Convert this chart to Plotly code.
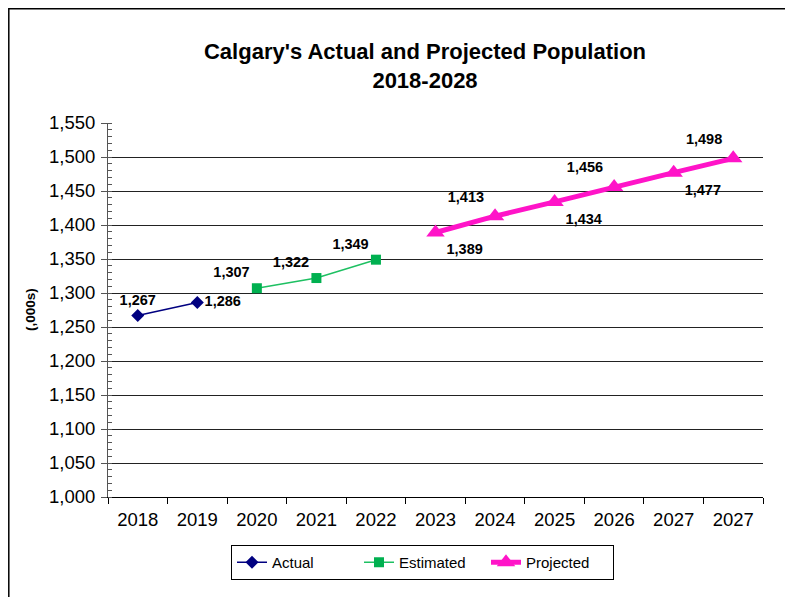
import plotly.graph_objects as go

tick_labels = ["2018", "2019", "2020", "2021", "2022", "2023", "2024", "2025", "2026", "2027", "2027"]

actual_x = [0, 1]
actual_y = [1267, 1286]
actual_pos = ["top center", "middle right"]

est_x = [2, 3, 4]
est_y = [1307, 1322, 1349]
est_pos = ["top left", "top left", "top left"]

proj_x = [5, 6, 7, 8, 9, 10]
proj_y = [1389, 1413, 1434, 1456, 1477, 1498]
proj_pos = ["bottom right", "top left", "bottom right", "top left", "bottom right", "top left"]

FONT = "Arial, Liberation Sans, sans-serif"
lab_font = dict(family=FONT, size=14.5, color="black", weight="bold")

# figure-pixel layout (page has an 8px body offset)
L, R, T, B = 100, 38, 115, 108
W, H = 793, 597
PW, PH = W - L - R, H - T - B


def px_x(p):
    return (p - L) / PW


def px_y(p):
    return (H - B - p) / PH


def fmt(v):
    return f"{v:,}"


fig = go.Figure()
fig.add_trace(go.Scatter(
    x=actual_x, y=actual_y, name="Actual", mode="lines+markers+text",
    line=dict(color="#000080", width=1.5),
    marker=dict(symbol="diamond", size=10, color="#000080"),
    text=[fmt(v) for v in actual_y], textposition=actual_pos, textfont=lab_font,
))
fig.add_trace(go.Scatter(
    x=est_x, y=est_y, name="Estimated", mode="lines+markers+text",
    line=dict(color="#1EC062", width=1.5),
    marker=dict(symbol="square", size=10, color="#00B050"),
    text=[fmt(v) for v in est_y], textposition=est_pos, textfont=lab_font,
))
fig.add_trace(go.Scatter(
    x=proj_x, y=proj_y, name="Projected", mode="lines+markers+text",
    line=dict(color="#FF14C8", width=5),
    marker=dict(symbol="triangle-up", size=16, color="#FF14C8"),
    text=[fmt(v) for v in proj_y], textposition=proj_pos, textfont=lab_font,
))

fig.update_layout(
    width=W, height=H,
    margin=dict(l=L, r=R, t=T, b=B),
    paper_bgcolor="white", plot_bgcolor="white",
    font=dict(family=FONT, color="black"),
    title=dict(
        text="Calgary's Actual and Projected Population<br>2018-2028",
        xref="container", yref="container",
        x=417 / W, xanchor="center", y=1 - 51 / H, yanchor="middle",
        font=dict(family=FONT, size=22, weight="bold", color="black"),
    ),
    showlegend=True,
    legend=dict(
        orientation="h", x=px_x(414.5), xanchor="center", y=px_y(537), yanchor="top",
        bordercolor="black", borderwidth=1, bgcolor="white",
        font=dict(family=FONT, size=15, color="black"),
        entrywidth=82, traceorder="normal",
    ),
    xaxis=dict(
        range=[-0.5, 10.5],
        tickmode="array", tickvals=list(range(len(tick_labels))), ticktext=tick_labels,
        ticks="", showgrid=False, zeroline=False, automargin=False,
        showline=True, linecolor="black", linewidth=1,
        ticklabelstandoff=6,
        tickfont=dict(family=FONT, size=18.5, color="black"),
        minor=dict(tickmode="array", tickvals=[i + 0.5 for i in range(-1, 11)],
                   ticks="outside", ticklen=6, tickcolor="black", showgrid=False),
    ),
    yaxis=dict(
        range=[1000, 1550], dtick=50, tick0=1000,
        tickformat=",d", automargin=False,
        showgrid=True, gridcolor="#222222", gridwidth=1,
        zeroline=False, showline=True, linecolor="#555555", linewidth=1,
        ticks="outside", ticklen=6, tickcolor="#555555",
        ticklabelstandoff=2,
        tickfont=dict(family=FONT, size=18.5, color="black"),
        minor=dict(dtick=10, ticks="inside", ticklen=4, tickcolor="#555555", showgrid=False),
    ),
    annotations=[dict(
        text="(,000s)", xref="paper", yref="paper", x=px_x(22), y=0.5,
        xanchor="center", yanchor="middle", textangle=-90, showarrow=False,
        font=dict(family=FONT, size=13.5, weight="bold", color="black"),
    )],
    shapes=[dict(type="rect", xref="paper", yref="paper",
                 x0=px_x(0.8), x1=px_x(782),
                 y0=px_y(640), y1=px_y(0.8),
                 line=dict(color="black", width=1.5))],
)

fig.write_html("out.html")
